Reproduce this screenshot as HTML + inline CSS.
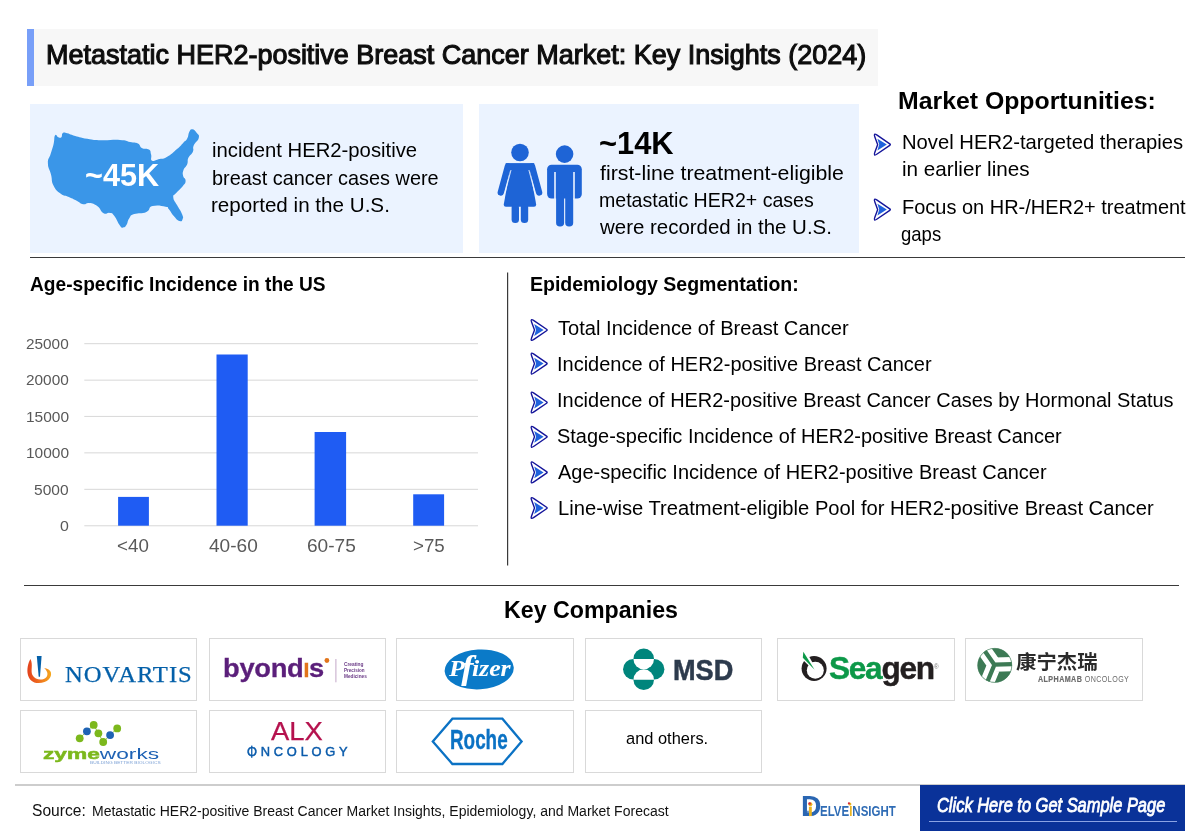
<!DOCTYPE html>
<html lang="en">
<head>
<meta charset="utf-8">
<title>Metastatic HER2-positive Breast Cancer Market: Key Insights (2024)</title>
<style>
html,body{margin:0;padding:0;background:#fff;}
#page{position:relative;width:1200px;height:834px;overflow:hidden;background:#fff;font-family:"Liberation Sans",sans-serif;color:#000;}
.t{position:absolute;white-space:nowrap;line-height:1;transform-origin:0 0;margin:0;padding:0;font-weight:normal;font-style:normal;}
.b{position:absolute;}
svg{position:absolute;left:0;top:0;overflow:visible;}
.logo{position:absolute;box-sizing:border-box;border:1px solid #d9d9d9;background:#fff;width:177px;height:63px;}
</style>
</head>
<body>
<div id="page">
<header class="title">
<div class="b" style="left:27px;top:29px;width:851px;height:57px;background:#f7f7f7;"></div>
<div class="b" style="left:27px;top:29px;width:7px;height:57px;background:#789ff8;"></div>
<h1 class="t" style="left:45.98px;top:40.64px;font-size:27.25px;-webkit-text-stroke:1.1px #0d0d0d;transform:scaleX(0.9900);color:#0d0d0d;">Metastatic HER2-positive Breast Cancer Market: Key Insights (2024)</h1>
</header>
<section class="stats">
<div class="b" style="left:30px;top:104px;width:433px;height:149px;background:#ebf3ff;"></div>
<div class="b" style="left:479px;top:104px;width:380px;height:149px;background:#ebf3ff;"></div>
<svg width="1200" height="834" viewBox="0 0 1200 834" aria-hidden="true">
<path d="M55.1 135.2C56.3 133.4 56.7 136.7 58.3 137.2C60.0 137.8 60.2 138.3 61.4 137.2C62.6 136.1 61.2 134.2 62.8 133.1C64.4 132.1 64.5 132.7 67.3 133.3C70.1 133.9 68.1 133.9 73.4 135.4C78.8 136.8 79.8 137.5 87.3 138.8C94.8 140.1 92.9 140.0 101.6 140.3C110.3 140.5 112.3 139.4 119.9 139.9C127.5 140.3 125.3 140.9 130.1 141.9C134.9 142.9 134.7 141.9 137.9 143.5C141.0 145.2 139.0 146.4 141.9 148.0C144.9 149.6 146.4 147.9 148.9 149.6C151.3 151.4 150.2 151.6 151.1 154.5C152.0 157.5 150.0 159.5 152.1 160.7C154.3 161.9 155.2 160.0 159.1 159.0C163.0 158.1 162.0 159.7 166.8 157.0C171.6 154.3 172.7 152.8 177.0 149.0C181.4 145.3 180.4 145.7 183.1 142.9C185.9 140.1 185.6 141.5 187.2 138.6C188.8 135.8 187.9 134.6 189.2 132.1C190.6 129.6 190.4 129.1 192.3 129.3C194.3 129.4 194.9 130.4 196.6 132.7C198.3 135.0 199.6 134.4 198.8 137.8C198.1 141.2 195.3 141.9 193.7 145.6C192.2 149.3 194.3 148.4 192.9 151.7C191.5 155.0 190.0 154.4 188.4 157.8C186.9 161.2 188.5 161.1 187.2 164.3C185.9 167.6 184.6 167.0 183.5 170.0C182.5 173.1 182.6 172.8 183.1 175.8C183.7 178.7 185.8 178.1 185.6 181.1C185.4 184.0 184.8 183.6 182.3 186.8C179.8 189.9 178.6 190.1 176.2 192.9C173.8 195.7 173.1 194.1 173.3 197.4C173.6 200.6 174.7 200.6 177.0 205.1C179.4 209.6 180.6 210.5 182.1 214.3C183.6 218.1 183.2 217.6 182.5 219.4C181.8 221.2 181.7 221.8 179.5 221.0C177.2 220.3 177.0 219.7 174.2 216.5C171.3 213.4 171.1 211.8 168.9 209.2C166.6 206.6 169.9 207.6 165.6 206.7C161.2 205.9 157.7 204.7 152.5 206.1C147.4 207.5 151.3 209.9 146.4 212.0C141.5 214.2 138.8 212.5 134.2 214.1C129.6 215.7 131.4 215.2 129.3 218.2C127.2 221.1 128.1 222.6 126.4 225.1C124.8 227.6 124.9 227.4 123.2 227.5C121.4 227.7 122.3 228.7 119.9 225.5C117.5 222.4 116.9 219.1 114.2 215.7C111.5 212.3 112.6 213.5 109.7 212.9C106.9 212.2 106.9 215.0 103.6 213.3C100.3 211.5 101.3 209.1 97.5 206.3C93.7 203.6 93.1 203.6 89.3 203.1C85.5 202.5 86.5 204.8 83.2 204.3C80.0 203.8 80.9 203.0 77.1 201.0C73.3 199.1 73.3 198.9 68.9 197.0C64.6 195.0 64.9 196.7 60.8 193.7C56.7 190.7 56.3 190.9 53.6 185.7C51.0 180.6 52.5 180.5 51.0 174.5C49.5 168.5 48.0 168.7 47.9 163.3C47.8 157.9 49.1 159.3 50.6 154.1C52.1 149.0 52.4 149.0 53.6 143.9C54.8 138.9 53.8 137.0 55.1 135.2Z" fill="#3a96e8"/>
<g fill="#1e64d6">
<circle cx="520.0" cy="152.5" r="8.8"/>
<path d="M511.2 163.9 L528.7 163.9 L536.1 204.1 Q536.5 206.7 534.0 206.7 L505.9 206.7 Q503.4 206.7 503.8 204.1 Z"/>
<path d="M507.9 166.4 L500.8 192.5 M532.0 166.4 L539.1 192.5" fill="none" stroke="#1e64d6" stroke-width="6.4" stroke-linecap="round"/>
<path d="M505.7 163.1 L534.2 163.1 L534.2 170.4 L505.7 170.4 Z"/>
<path d="M511.0 170.0 L505.1 192.5 M528.9 170.0 L534.8 192.5" fill="none" stroke="#ebf3ff" stroke-width="0.9"/>
<rect x="511.6" y="204.1" width="7.4" height="19" rx="3.6"/>
<rect x="520.8" y="204.1" width="7.4" height="19" rx="3.6"/>
<circle cx="564.6" cy="154.1" r="8.8"/>
<rect x="547.1" y="164.7" width="34.7" height="33.8" rx="4.5"/>
<rect x="556.1" y="192.9" width="8" height="33.6" rx="3.8"/>
<rect x="565.2" y="192.9" width="8" height="33.6" rx="3.8"/>
</g>
<path d="M555.0 172.1 L555.0 199.4 M574.0 172.1 L574.0 199.4" fill="none" stroke="#ebf3ff" stroke-width="1.6"/>
</svg>
<div class="t" style="left:84.93px;top:159.84px;font-size:30.43px;font-weight:bold;transform:scaleX(1.0062);color:#fff;">~45K</div>
<div class="t" style="left:211.78px;top:140.12px;font-size:20.29px;transform:scaleX(0.9996);">incident HER2-positive</div>
<div class="t" style="left:211.83px;top:168.02px;font-size:20.29px;transform:scaleX(0.9807);">breast cancer cases were</div>
<div class="t" style="left:211.44px;top:195.02px;font-size:20.29px;transform:scaleX(1.0170);">reported in the U.S.</div>
<div class="t" style="left:598.53px;top:128.11px;font-size:31.88px;font-weight:bold;transform:scaleX(0.9673);">~14K</div>
<div class="t" style="left:599.69px;top:162.82px;font-size:20.29px;transform:scaleX(1.0506);">first-line treatment-eligible</div>
<div class="t" style="left:598.62px;top:189.62px;font-size:20.29px;transform:scaleX(0.9648);">metastatic HER2+ cases</div>
<div class="t" style="left:599.89px;top:216.52px;font-size:20.29px;transform:scaleX(1.0084);">were recorded in the U.S.</div>
<div class="b" style="left:30px;top:257px;width:1155px;height:1px;background:#3a3a3a;"></div>
</section>
<section class="opportunities">
<h2 class="t" style="left:897.98px;top:88.96px;font-size:23.91px;font-weight:bold;transform:scaleX(1.0382);">Market Opportunities:</h2>
<svg width="1200" height="834" viewBox="0 0 1200 834" aria-hidden="true">
<path d="M874.85 136.94Q873.20 132.50 877.10 135.18L889.77 143.86Q890.85 144.60 889.77 145.34L877.10 154.02Q873.20 156.70 874.85 152.26L877.62 144.81Q877.70 144.60 877.62 144.39Z" fill="#fff" stroke="#14149a" stroke-width="1.4" stroke-linejoin="round"/><path d="M877.40 138.70 L886.80 144.60 L877.40 150.50 L879.20 144.60 Z" fill="#1f62dc"/>
<path d="M874.85 201.94Q873.20 197.50 877.10 200.18L889.77 208.86Q890.85 209.60 889.77 210.34L877.10 219.02Q873.20 221.70 874.85 217.26L877.62 209.81Q877.70 209.60 877.62 209.39Z" fill="#fff" stroke="#14149a" stroke-width="1.4" stroke-linejoin="round"/><path d="M877.40 203.70 L886.80 209.60 L877.40 215.50 L879.20 209.60 Z" fill="#1f62dc"/>
</svg>
<div class="t" style="left:902.03px;top:132.22px;font-size:20.29px;transform:scaleX(0.9971);">Novel HER2-targeted therapies</div>
<div class="t" style="left:901.76px;top:159.12px;font-size:20.29px;transform:scaleX(1.0197);">in earlier lines</div>
<div class="t" style="left:901.72px;top:196.82px;font-size:20.29px;transform:scaleX(0.9850);">Focus on HR-/HER2+ treatment</div>
<div class="t" style="left:901.29px;top:223.62px;font-size:20.29px;transform:scaleX(0.9138);">gaps</div>
</section>
<section class="chart">
<h2 class="t" style="left:29.50px;top:273.85px;font-size:20.14px;font-weight:bold;transform:scaleX(0.9509);">Age-specific Incidence in the US</h2>
<svg width="1200" height="834" viewBox="0 0 1200 834" aria-hidden="true">
<rect x="84.3" y="343.1" width="393.7" height="1.1" fill="#dbdbdb"/>
<rect x="84.3" y="379.6" width="393.7" height="1.1" fill="#dbdbdb"/>
<rect x="84.3" y="415.9" width="393.7" height="1.1" fill="#dbdbdb"/>
<rect x="84.3" y="452.3" width="393.7" height="1.1" fill="#dbdbdb"/>
<rect x="84.3" y="488.8" width="393.7" height="1.1" fill="#dbdbdb"/>
<rect x="84.3" y="525.2" width="393.7" height="1.1" fill="#dbdbdb"/>
<rect x="118.1" y="496.9" width="30.8" height="28.8" fill="#1f5cf3"/>
<rect x="216.5" y="354.5" width="31.2" height="171.2" fill="#1f5cf3"/>
<rect x="314.6" y="432.0" width="31.5" height="93.7" fill="#1f5cf3"/>
<rect x="413.2" y="494.3" width="30.9" height="31.4" fill="#1f5cf3"/>
<rect x="507" y="272.5" width="1.2" height="293" fill="#3a3a3a"/>
</svg>
<div class="t" style="left:26.23px;top:336.02px;font-size:15.22px;transform:scaleX(1.0082);color:#595959;">25000</div>
<div class="t" style="left:26.03px;top:372.42px;font-size:15.22px;transform:scaleX(1.0100);color:#595959;">20000</div>
<div class="t" style="left:25.51px;top:408.82px;font-size:15.22px;transform:scaleX(1.0157);color:#595959;">15000</div>
<div class="t" style="left:25.51px;top:445.22px;font-size:15.22px;transform:scaleX(1.0157);color:#595959;">10000</div>
<div class="t" style="left:34.14px;top:481.62px;font-size:15.22px;transform:scaleX(1.0194);color:#595959;">5000</div>
<div class="t" style="left:60.04px;top:518.02px;font-size:15.22px;transform:scaleX(1.0441);color:#595959;">0</div>
<div class="t" style="left:117.30px;top:536.60px;font-size:18.55px;transform:scaleX(1.0120);color:#595959;">&lt;40</div>
<div class="t" style="left:208.91px;top:536.60px;font-size:18.55px;transform:scaleX(1.0297);color:#595959;">40-60</div>
<div class="t" style="left:307.49px;top:536.60px;font-size:18.55px;transform:scaleX(1.0303);color:#595959;">60-75</div>
<div class="t" style="left:412.67px;top:536.60px;font-size:18.55px;transform:scaleX(1.0103);color:#595959;">&gt;75</div>
</section>
<section class="segmentation">
<h2 class="t" style="left:530.32px;top:274.05px;font-size:20.14px;font-weight:bold;transform:scaleX(0.9693);">Epidemiology Segmentation:</h2>
<svg width="1200" height="834" viewBox="0 0 1200 834" aria-hidden="true">
<path d="M531.65 322.34Q530.00 317.90 533.90 320.58L546.57 329.26Q547.65 330.00 546.57 330.74L533.90 339.42Q530.00 342.10 531.65 337.66L534.42 330.21Q534.50 330.00 534.42 329.79Z" fill="#fff" stroke="#14149a" stroke-width="1.4" stroke-linejoin="round"/><path d="M534.20 324.10 L543.60 330.00 L534.20 335.90 L536.00 330.00 Z" fill="#1f62dc"/>
<path d="M531.65 355.94Q530.00 351.50 533.90 354.18L546.57 362.86Q547.65 363.60 546.57 364.34L533.90 373.02Q530.00 375.70 531.65 371.26L534.42 363.81Q534.50 363.60 534.42 363.39Z" fill="#fff" stroke="#14149a" stroke-width="1.4" stroke-linejoin="round"/><path d="M534.20 357.70 L543.60 363.60 L534.20 369.50 L536.00 363.60 Z" fill="#1f62dc"/>
<path d="M531.65 394.84Q530.00 390.40 533.90 393.08L546.57 401.76Q547.65 402.50 546.57 403.24L533.90 411.92Q530.00 414.60 531.65 410.16L534.42 402.71Q534.50 402.50 534.42 402.29Z" fill="#fff" stroke="#14149a" stroke-width="1.4" stroke-linejoin="round"/><path d="M534.20 396.60 L543.60 402.50 L534.20 408.40 L536.00 402.50 Z" fill="#1f62dc"/>
<path d="M531.65 429.14Q530.00 424.70 533.90 427.38L546.57 436.06Q547.65 436.80 546.57 437.54L533.90 446.22Q530.00 448.90 531.65 444.46L534.42 437.01Q534.50 436.80 534.42 436.59Z" fill="#fff" stroke="#14149a" stroke-width="1.4" stroke-linejoin="round"/><path d="M534.20 430.90 L543.60 436.80 L534.20 442.70 L536.00 436.80 Z" fill="#1f62dc"/>
<path d="M531.65 464.74Q530.00 460.30 533.90 462.98L546.57 471.66Q547.65 472.40 546.57 473.14L533.90 481.82Q530.00 484.50 531.65 480.06L534.42 472.61Q534.50 472.40 534.42 472.19Z" fill="#fff" stroke="#14149a" stroke-width="1.4" stroke-linejoin="round"/><path d="M534.20 466.50 L543.60 472.40 L534.20 478.30 L536.00 472.40 Z" fill="#1f62dc"/>
<path d="M531.65 500.34Q530.00 495.90 533.90 498.58L546.57 507.26Q547.65 508.00 546.57 508.74L533.90 517.42Q530.00 520.10 531.65 515.66L534.42 508.21Q534.50 508.00 534.42 507.79Z" fill="#fff" stroke="#14149a" stroke-width="1.4" stroke-linejoin="round"/><path d="M534.20 502.10 L543.60 508.00 L534.20 513.90 L536.00 508.00 Z" fill="#1f62dc"/>
</svg>
<p class="t" style="left:558.01px;top:317.98px;font-size:20.58px;transform:scaleX(0.9775);">Total Incidence of Breast Cancer</p>
<p class="t" style="left:557.28px;top:353.58px;font-size:20.58px;transform:scaleX(0.9718);">Incidence of HER2-positive Breast Cancer</p>
<p class="t" style="left:557.28px;top:389.58px;font-size:20.58px;transform:scaleX(0.9696);">Incidence of HER2-positive Breast Cancer Cases by Hormonal Status</p>
<p class="t" style="left:557.42px;top:425.58px;font-size:20.58px;transform:scaleX(0.9698);">Stage-specific Incidence of HER2-positive Breast Cancer</p>
<p class="t" style="left:557.74px;top:461.58px;font-size:20.58px;transform:scaleX(0.9709);">Age-specific Incidence of HER2-positive Breast Cancer</p>
<p class="t" style="left:558.14px;top:497.58px;font-size:20.58px;transform:scaleX(0.9808);">Line-wise Treatment-eligible Pool for HER2-positive Breast Cancer</p>
<div class="b" style="left:24px;top:585px;width:1155px;height:1px;background:#3a3a3a;"></div>
</section>
<section class="companies">
<h2 class="t" style="left:503.73px;top:597.91px;font-size:24.2px;font-weight:bold;transform:scaleX(0.9585);">Key Companies</h2>
<div class="logo" style="left:20px;top:638px;width:177px;"></div>
<svg width="1200" height="834" viewBox="0 0 1200 834" aria-hidden="true">
<defs><linearGradient id="nvg" x1="0" y1="0" x2="1" y2="0"><stop offset="0" stop-color="#e2401c"/><stop offset="0.45" stop-color="#ee6a1f"/><stop offset="1" stop-color="#f5a81c"/></linearGradient></defs>
<path d="M30.4 658.9 C25.4 667.6 25.8 683.0 38.7 683.0 C47.5 683.0 52.4 677.1 50.8 671.9 C49.8 669.7 47.1 668.4 44.1 667.9 C47.3 670.6 48.6 674.4 46.3 677.3 C43.2 680.8 35.3 680.4 32.4 675.1 C30.4 670.3 33.4 664.5 30.4 658.9 Z" fill="url(#nvg)"/>
<path d="M36.8 656.1 L41.6 656.1 L40.0 676.8 L38.7 676.8 Z" fill="#0460a9"/>
</svg>
<div class="t" style="left:64.59px;top:663.90px;font-size:22.75px;font-family:'Liberation Serif', serif;letter-spacing:0.9px;-webkit-text-stroke:0.25px #0460a9;transform:scaleX(1.0834);color:#0460a9;">NOVARTIS</div>
<div class="logo" style="left:209px;top:638px;width:177px;"></div>
<div class="t" style="left:223.22px;top:655.44px;font-size:26.3px;font-weight:bold;letter-spacing:-0.3px;-webkit-text-stroke:0.3px #5b1f7a;transform:scaleX(1.0398);color:#5b1f7a;">byond<span style="font-size:0.78em;color:#e2751b;-webkit-text-stroke-color:#e2751b">I</span>s</div>
<svg width="1200" height="834" viewBox="0 0 1200 834" aria-hidden="true">
<circle cx="326.9" cy="660.5" r="2.4" fill="#e2751b"/>
<rect x="335.4" y="659" width="1" height="23.3" fill="#c4a8c9"/>
</svg>
<div class="t" style="left:343.63px;top:662.29px;font-size:5.2px;font-weight:bold;transform:scaleX(0.9266);color:#6a3a86;">Creating</div>
<div class="t" style="left:343.67px;top:667.50px;font-size:5.2px;font-weight:bold;transform:scaleX(0.8816);color:#6a3a86;">Precision</div>
<div class="t" style="left:343.97px;top:673.50px;font-size:5.2px;font-weight:bold;transform:scaleX(0.9095);color:#6a3a86;">Medicines</div>
<div class="logo" style="left:396px;top:638px;width:177.6px;"></div>
<svg width="1200" height="834" viewBox="0 0 1200 834" aria-hidden="true">
<ellipse cx="479.2" cy="669.4" rx="34.6" ry="19.9" fill="#0b7ac8" transform="rotate(-3.5 479.2 669.4)"/>
</svg>
<div class="t" style="left:449.48px;top:656.68px;font-size:23.5px;font-weight:bold;font-style:italic;font-family:'Liberation Serif', serif;transform:scaleX(1.1002);color:#fff;">P<span style="font-size:1.42em;line-height:0;margin:0 -0.04em 0 -0.1em;position:relative;top:3.6px">f</span>izer</div>
<div class="logo" style="left:585px;top:638px;width:177px;"></div>
<svg width="1200" height="834" viewBox="0 0 1200 834" aria-hidden="true">
<g fill="#00857c"><circle cx="633.33" cy="669.28" r="10.3"/><circle cx="654.10" cy="669.28" r="10.3"/><circle cx="643.72" cy="658.90" r="10.3"/><circle cx="643.72" cy="679.67" r="10.3"/></g>
<path d="M633.42 658.90 A10.3 10.3 0 0 0 654.02 658.90 Z" fill="#fff"/>
<path d="M633.42 679.67 A10.3 10.3 0 0 1 654.02 679.67 Z" fill="#fff"/>
</svg>
<div class="t" style="left:672.92px;top:656.01px;font-size:28.99px;font-weight:bold;-webkit-text-stroke:0.5px #2d3b4d;transform:scaleX(0.9362);color:#2d3b4d;">MSD</div>
<div class="logo" style="left:777px;top:638px;width:178px;"></div>
<svg width="1200" height="834" viewBox="0 0 1200 834" aria-hidden="true">
<circle cx="814.09" cy="668.52" r="12.5" fill="#231f20"/>
<circle cx="815.31" cy="670.32" r="8.5" fill="#fff"/>
<polygon points="801.75,658.82 802.91,650.80 809.35,656.92 816.10,669.37 813.99,670.84" fill="#fff"/>
<polygon points="803.33,651.75 802.81,657.82 814.62,669.68" fill="#0c9848"/>
</svg>
<div class="t" style="left:828.94px;top:652.61px;font-size:31.88px;font-weight:bold;letter-spacing:-1.3px;-webkit-text-stroke:0.45px #231f20;transform:scaleX(0.9925);color:#231f20;"><span style="color:#0c9848;-webkit-text-stroke-color:#0c9848">Sea</span>gen</div>
<div class="t" style="left:934.32px;top:663.70px;font-size:6.5px;transform:scaleX(0.9706);color:#777;">®</div>
<div class="logo" style="left:965px;top:638px;width:178px;"></div>
<svg width="1200" height="834" viewBox="0 0 1200 834" aria-hidden="true">
<defs><clipPath id="amc"><circle cx="994.78" cy="665.36" r="17.2"/></clipPath></defs>
<circle cx="994.78" cy="665.36" r="17.2" fill="#3d7a55"/>
<g clip-path="url(#amc)" fill="none" stroke-linejoin="miter"><path d="M981.0 645.6 L994.4 664.7 L984.9 687.8 M994.4 664.7 L1019.5 664.0" stroke="#fff" stroke-width="14.2"/><path d="M981.0 645.6 L994.4 664.7 L984.9 687.8 M994.4 664.7 L1019.5 664.0" stroke="#3d7a55" stroke-width="4.3"/></g>
<circle cx="994.78" cy="665.36" r="17" fill="none" stroke="#3d7a55" stroke-width="0.6"/>
</svg>
<div class="t" style="left:1015.91px;top:652.57px;font-size:19.05px;font-weight:bold;font-family:'Liberation Sans', 'Noto Sans CJK SC', sans-serif;transform:scaleX(1.0729);color:#2b2b2b;">康宁杰瑞</div>
<div class="t" style="left:1037.79px;top:676.01px;font-size:8.26px;letter-spacing:0.5px;transform:scaleX(0.8639);color:#6b6b6b;"><b style="-webkit-text-stroke:0.2px #6b6b6b">ALPHAMAB</b> ONCOLOGY</div>
<div class="logo" style="left:20px;top:710px;width:177px;"></div>
<svg width="1200" height="834" viewBox="0 0 1200 834" aria-hidden="true">
<polyline points="79.7,738.3 86.9,731.3 93.7,724.9 98.4,733.3 103.2,742.0 110.1,735.1 117.2,728.4" fill="none" stroke="#7cb81c" stroke-width="0.8"/>
<circle cx="79.7" cy="738.3" r="3.9" fill="#7cb81c"/><circle cx="86.9" cy="731.3" r="3.9" fill="#1e62b4"/><circle cx="93.7" cy="724.9" r="3.9" fill="#7cb81c"/><circle cx="98.4" cy="733.3" r="3.9" fill="#7cb81c"/><circle cx="103.2" cy="742.0" r="3.9" fill="#7cb81c"/><circle cx="110.1" cy="735.1" r="3.9" fill="#1e62b4"/><circle cx="117.2" cy="728.4" r="3.9" fill="#7cb81c"/>
</svg>
<div class="t" style="left:43.07px;top:745.83px;font-size:15.2px;transform:scaleX(1.4950);color:#1e62b4;"><b style="color:#7cb81c;-webkit-text-stroke:0.5px #7cb81c">zyme</b>works</div>
<div class="t" style="left:89.87px;top:761.18px;font-size:3.9px;transform:scaleX(1.2321);color:#7fa3d6;">BUILDING BETTER BIOLOGICS</div>
<div class="logo" style="left:209px;top:710px;width:177px;"></div>
<div class="t" style="left:270.98px;top:718.86px;font-size:25.8px;-webkit-text-stroke:0.25px #b5124e;transform:scaleX(1.0624);color:#b5124e;">ALX</div>
<div class="t" style="left:246.61px;top:745.57px;font-size:12.32px;letter-spacing:3.6px;-webkit-text-stroke:0.45px #0a5bab;transform:scaleX(1.0448);color:#0a5bab;">ONCOLOGY</div>
<svg width="1200" height="834" viewBox="0 0 1200 834" aria-hidden="true"><rect x="251.1" y="745.6" width="1.3" height="12.2" fill="#0a5bab"/></svg>
<div class="logo" style="left:396px;top:710px;width:177.6px;"></div>
<svg width="1200" height="834" viewBox="0 0 1200 834" aria-hidden="true">
<polygon points="432.8,741.5 452.4,718.7 502.4,718.7 521.6,741.5 502.4,764.0 452.4,764.0" fill="none" stroke="#0b72c4" stroke-width="2.3" stroke-linejoin="miter"/>
</svg>
<div class="t" style="left:449.60px;top:725.82px;font-size:27.97px;font-weight:bold;-webkit-text-stroke:0.4px #0b72c4;transform:scaleX(0.6741);color:#0b72c4;">Roche</div>
<div class="logo" style="left:585px;top:710px;width:177px;"></div>
<div class="t" style="left:625.90px;top:730.51px;font-size:15.94px;transform:scaleX(1.0306);">and others.</div>
</section>
<footer class="source">
<div class="b" style="left:15px;top:784px;width:1170px;height:1.6px;background:#cdcdcd;"></div>
<div class="t" style="left:32.42px;top:801.72px;font-size:17.1px;transform:scaleX(0.9121);color:#111;">Source:</div>
<div class="t" style="left:91.98px;top:803.70px;font-size:14.06px;transform:scaleX(0.9972);color:#111;">Metastatic HER2-positive Breast Cancer Market Insights, Epidemiology, and Market Forecast</div>
<div class="t" style="left:800.57px;top:792.46px;font-size:28.99px;font-weight:bold;transform:scaleX(0.9744);color:#2a66b2;">D</div>
<div class="t" style="left:820.00px;top:803.80px;font-size:14.06px;font-weight:bold;transform:scaleX(0.8182);color:#2f6cb5;">ELVE<span style="color:#e9b320">I</span>NSIGHT</div>
<svg width="1200" height="834" viewBox="0 0 1200 834" aria-hidden="true">
<rect x="808.9" y="806.7" width="2.9" height="9.4" fill="#e9b320"/><circle cx="810.4" cy="804.3" r="2" fill="#e9b320"/><circle cx="809.6" cy="803.5" r="1.3" fill="#d8283a"/><circle cx="849.9" cy="804.0" r="1.5" fill="#e9b320"/><circle cx="848.9" cy="803.3" r="1.1" fill="#d8283a"/><rect x="805.6" y="812.8" width="1.3" height="3" fill="#2a66b2"/><rect x="807.3" y="810.7" width="1.3" height="5" fill="#2a66b2"/>
</svg>
<div class="b" style="left:920px;top:785.3px;width:265.4px;height:46.2px;background:#0a3299;"></div>
<div class="b" style="left:929.4px;top:820.7px;width:248px;height:1.1px;background:#8ba3e4;"></div>
<div class="t" style="left:936.56px;top:795.83px;font-size:19.71px;font-style:italic;-webkit-text-stroke:0.8px #fff;transform:scaleX(0.8345);color:#fff;">Click Here to Get Sample Page</div>
</footer>
</div>
</body>
</html>
